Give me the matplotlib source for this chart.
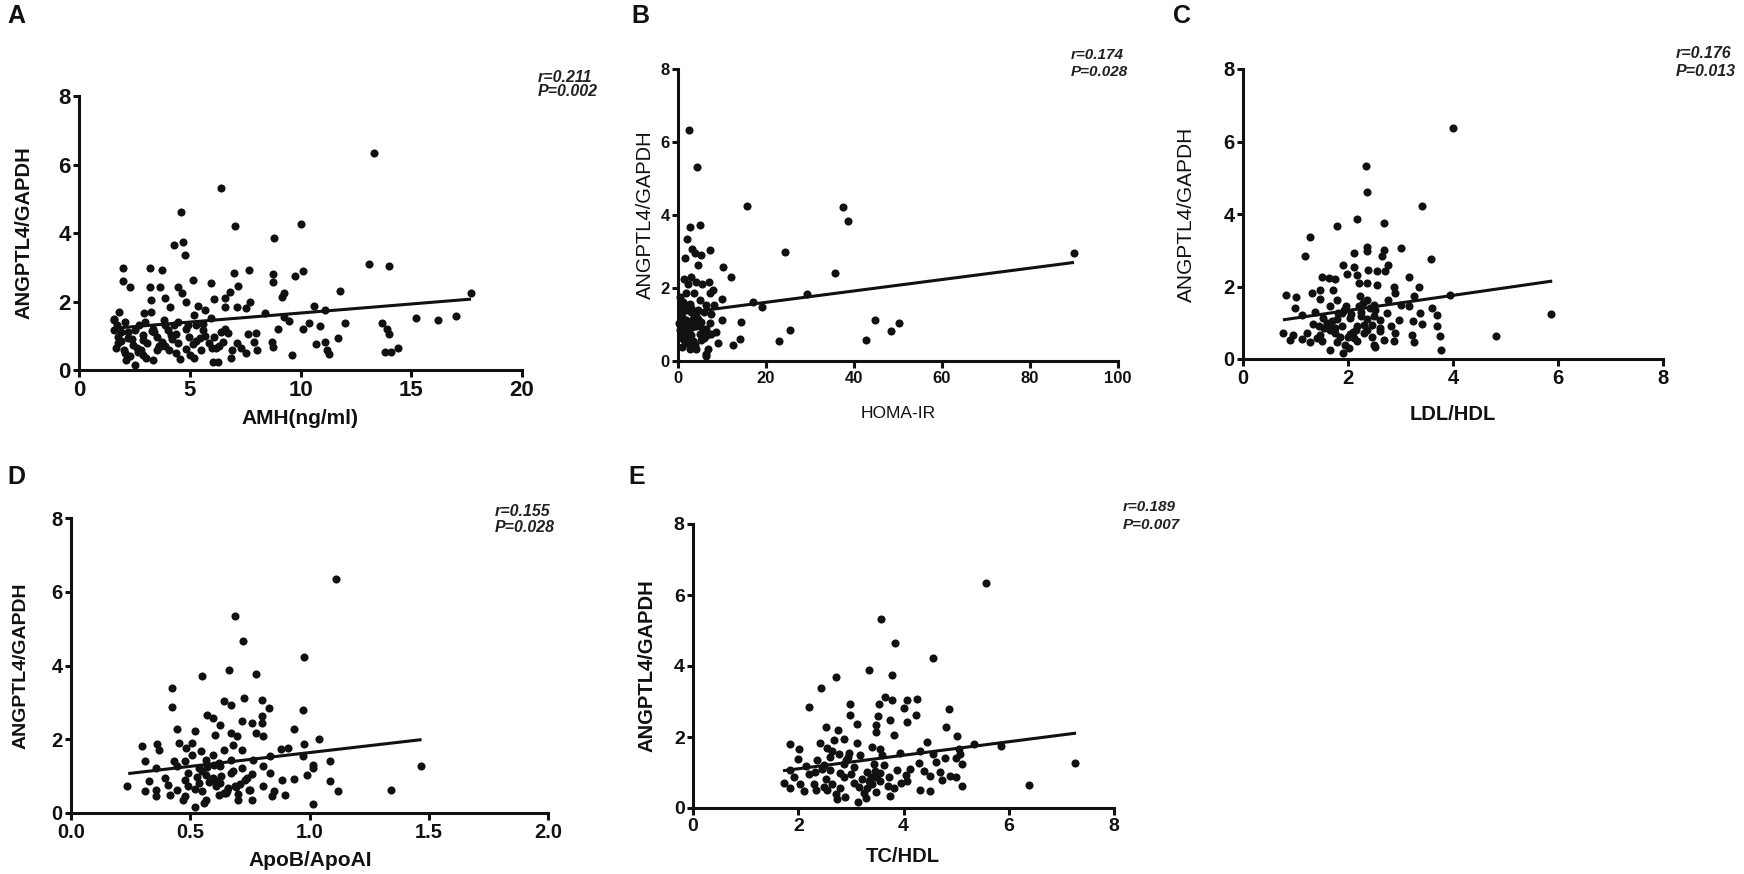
import matplotlib
matplotlib.use("Agg")
import matplotlib.pyplot as plt

plt.rcParams['font.family'] = ['Liberation Sans', 'DejaVu Sans']

# ---- data ----
# A: AMH(ng/ml) vs ANGPTL4/GAPDH
amh_x = [13.3, 6.42, 4.6, 7.06, 10.0, 8.8, 4.27, 4.68, 4.77, 13.1, 14.0, 1.98, 3.19, 3.73, 7.66,
         10.1, 9.73, 6.98, 8.77, 1.98, 2.32, 3.19, 3.66, 5.13, 5.94, 8.76, 4.45, 7.19, 4.65, 9.24,
         9.16, 11.8, 6.82, 17.7, 3.87, 3.27, 4.84, 6.10, 6.58, 7.71, 5.37, 7.15, 4.13, 10.6, 6.58,
         1.82, 2.95, 3.27, 8.39, 7.55, 5.69, 11.1, 1.58, 2.06, 3.84, 4.48, 5.21, 5.94, 15.2, 16.2,
         17.0, 9.48, 9.24, 12.0, 10.4, 10.9, 13.7, 13.9, 10.1, 9.0, 1.58, 2.55, 3.35, 4.0, 4.81,
         5.61, 6.58, 14.0, 7.63, 8.0, 1.74, 2.23, 2.87, 3.52, 4.16, 4.97, 5.45, 6.10, 6.74, 11.7,
         1.74, 2.42, 3.06, 3.76, 4.48, 5.13, 5.85, 6.50, 7.15, 7.90, 8.71, 10.7, 11.1, 1.66, 2.03,
         2.79, 3.52, 4.08, 4.81, 5.53, 6.18, 6.90, 8.03, 8.76, 11.2, 14.4, 14.1, 13.8, 2.31, 3.03,
         3.35, 4.56, 5.21, 6.87, 7.55, 9.61, 11.3, 2.55, 6.06, 6.26, 2.06, 2.68, 1.7, 2.2, 2.9,
         3.4, 3.9, 4.3, 5.0, 5.6, 1.9, 2.6, 3.6, 4.4, 5.3, 6.3,
         1.6, 1.9, 2.4, 2.7, 3.0, 3.3, 3.6, 3.9, 4.2, 4.9, 5.3, 5.7, 6.0, 6.4, 7.3, 2.1, 2.9, 4.4]
amh_y = [6.35, 5.30, 4.61, 4.20, 4.26, 3.84, 3.66, 3.73, 3.35, 3.09, 3.04, 2.98, 2.99, 2.93, 2.92,
         2.89, 2.74, 2.82, 2.80, 2.59, 2.43, 2.43, 2.41, 2.62, 2.53, 2.58, 2.43, 2.45, 2.25, 2.24,
         2.12, 2.30, 2.28, 2.24, 2.09, 2.04, 1.99, 2.06, 2.09, 1.99, 1.87, 1.85, 1.85, 1.87, 1.85,
         1.70, 1.65, 1.70, 1.65, 1.80, 1.75, 1.75, 1.46, 1.41, 1.46, 1.41, 1.60, 1.51, 1.51, 1.46,
         1.58, 1.44, 1.55, 1.38, 1.36, 1.29, 1.36, 1.21, 1.20, 1.19, 1.17, 1.17, 1.21, 1.17, 1.19,
         1.17, 1.21, 1.05, 1.04, 1.07, 0.97, 0.92, 1.02, 0.97, 1.02, 0.97, 0.92, 0.97, 1.07, 0.94,
         0.78, 0.73, 0.78, 0.83, 0.78, 0.76, 0.78, 0.83, 0.78, 0.83, 0.81, 0.76, 0.83, 0.63, 0.58,
         0.58, 0.58, 0.58, 0.60, 0.58, 0.63, 0.58, 0.58, 0.68, 0.58, 0.63, 0.53, 0.52, 0.41, 0.34,
         0.29, 0.32, 0.36, 0.36, 0.51, 0.44, 0.47, 0.15, 0.24, 0.24, 0.49, 0.53, 1.30, 1.10, 0.88,
         1.12, 0.70, 1.30, 0.45, 1.35, 0.85, 0.65, 0.68, 1.05, 1.30, 0.70,
         1.50, 1.10, 0.90, 1.30, 1.40, 1.15, 0.70, 1.30, 0.90, 1.30, 0.85, 1.00, 0.65, 1.10, 0.65,
         0.30, 0.45, 0.50]
amh_fit_x = [1.6, 17.7]
amh_fit_y = [1.22, 2.07]

# B: HOMA-IR
homa_x = [2.5, 4.3, 15.7, 37.6, 38.7, 5.1, 2.65, 2.0, 24.3, 7.35, 3.1, 3.8, 5.3, 1.5, 10.2,
          4.5, 12.1, 35.6, 1.3, 3.0, 4.2, 2.3, 5.5, 7.0, 8.0, 7.2, 1.9, 3.6, 29.3, 10.1,
          17.1, 19.2, 0.5, 1.1, 2.65, 4.9, 6.4, 8.1, 0.8, 3.0, 4.5, 7.6, 44.7, 50.2, 48.4,
          14.4, 10.0, 25.5, 42.7, 23.0, 14.2, 12.4, 9.1, 0.8, 1.9, 3.4, 5.3, 7.2, 0.5, 2.3,
          4.2, 6.4, 8.7, 0.8, 3.0, 4.9, 7.6, 1.3, 3.4, 5.3, 0.8, 2.65, 4.2, 6.8, 6.4, 6.3,
          1.5, 5.7, 1.9, 3.8, 90.0, 0.3, 1.0, 2.0, 3.2, 4.0, 5.8, 6.0, 1.6, 2.8, 0.4, 3.6,
          0.6, 1.2, 2.2, 2.9, 3.5, 4.6, 5.0, 6.6, 1.4, 2.6, 3.9, 0.9]
homa_y = [6.33, 5.31, 4.26, 4.21, 3.84, 3.73, 3.66, 3.35, 2.99, 3.04, 3.08, 2.95, 2.90, 2.81, 2.58,
          2.63, 2.29, 2.40, 2.26, 2.31, 2.17, 2.12, 2.11, 2.17, 1.94, 1.85, 1.85, 1.85, 1.83, 1.71,
          1.62, 1.48, 1.76, 1.62, 1.57, 1.67, 1.53, 1.53, 1.44, 1.35, 1.41, 1.30, 1.13, 1.05, 0.81,
          1.07, 1.12, 0.84, 0.57, 0.55, 0.59, 0.45, 0.48, 1.21, 1.12, 1.16, 1.07, 1.03, 0.98, 0.89,
          0.95, 0.89, 0.80, 0.75, 0.70, 0.75, 0.75, 0.57, 0.52, 0.57, 0.38, 0.34, 0.34, 0.34, 0.20, 0.13,
          0.66, 0.84, 1.39, 1.07, 2.95, 1.05, 0.62, 0.48, 0.92, 1.25, 0.62, 1.35, 1.00, 0.60, 0.85, 0.45,
          1.30, 0.80, 1.00, 1.45, 0.55, 1.15, 0.95, 0.70, 1.55, 0.78, 0.45, 1.10]
homa_fit_x = [0.3, 90.0]
homa_fit_y = [1.30, 2.70]

# C: LDL/HDL
ldl_x = [4.0, 2.35, 2.36, 3.40, 1.79, 2.18, 2.69, 1.27, 1.18, 2.36, 2.36, 2.69, 3.0, 3.59, 1.90,
         2.11, 2.11, 2.65, 2.77, 2.39, 2.55, 2.71, 1.98, 2.17, 1.50, 1.63, 1.76, 3.16, 2.20, 2.36,
         2.55, 2.88, 3.36, 1.47, 1.72, 0.82, 1.01, 1.31, 2.90, 3.95, 3.25, 1.47, 1.79, 2.22, 2.36,
         2.77, 1.66, 1.97, 2.20, 2.49, 3.0, 3.16, 0.99, 3.60, 1.37, 1.12, 1.80, 2.25, 2.52, 2.74,
         3.38, 3.70, 5.86, 1.53, 1.79, 2.04, 2.36, 2.61, 2.98, 3.24, 3.41, 3.70, 1.34, 1.63, 1.88,
         2.17, 2.46, 2.81, 0.76, 0.96, 1.22, 1.47, 1.76, 2.04, 2.30, 2.61, 2.90, 3.22, 3.76, 4.82,
         0.90, 1.12, 1.28, 1.50, 1.79, 2.17, 2.49, 2.69, 2.87, 3.25, 2.52, 1.65, 1.90, 2.01, 3.77,
         2.11, 1.88, 1.66, 2.36, 1.55, 2.0, 2.25, 1.70, 2.45, 1.95, 2.15, 1.40,
         1.60, 1.85, 2.05, 2.30, 2.42, 1.75, 2.10, 2.50, 1.45, 2.28, 1.92, 2.60]
ldl_y = [6.36, 5.33, 4.62, 4.21, 3.68, 3.86, 3.75, 3.37, 2.83, 3.10, 2.97, 3.01, 3.06, 2.75, 2.60,
         2.92, 2.53, 2.83, 2.60, 2.46, 2.44, 2.42, 2.35, 2.32, 2.26, 2.23, 2.20, 2.26, 2.09, 2.09,
         2.05, 2.00, 2.00, 1.91, 1.89, 1.77, 1.70, 1.82, 1.82, 1.77, 1.73, 1.65, 1.63, 1.74, 1.63,
         1.63, 1.47, 1.47, 1.47, 1.50, 1.50, 1.45, 1.40, 1.40, 1.29, 1.22, 1.27, 1.31, 1.36, 1.27,
         1.27, 1.22, 1.25, 1.13, 1.10, 1.13, 1.10, 1.08, 1.08, 1.06, 0.96, 0.90, 0.97, 0.95, 0.92,
         0.92, 0.95, 0.92, 0.72, 0.67, 0.72, 0.67, 0.72, 0.70, 0.72, 0.76, 0.72, 0.67, 0.64, 0.64,
         0.53, 0.55, 0.46, 0.49, 0.46, 0.51, 0.39, 0.53, 0.49, 0.46, 0.33, 0.26, 0.17, 0.30, 0.26,
         0.58, 1.27, 0.81, 0.81, 0.85, 0.60, 1.20, 1.05, 0.62, 0.40, 0.80, 0.58,
         1.00, 0.62, 1.25, 0.95, 1.40, 0.85, 0.75, 1.20, 0.90, 1.55, 1.35, 0.85]
ldl_fit_x = [0.76, 5.89]
ldl_fit_y = [1.08, 2.15]

# D: ApoB/ApoAI
apo_x = [1.11, 0.686, 0.72, 0.975, 0.664, 0.776, 0.548, 0.423, 0.423, 0.724, 0.641, 0.671, 0.799,
         0.972, 0.832, 0.716, 0.758, 0.57, 0.596, 0.799, 0.799, 0.626, 0.934, 0.446, 0.521, 0.604,
         0.67, 0.776, 0.806, 1.04, 0.698, 0.296, 0.36, 0.453, 0.506, 0.978, 0.483, 0.68, 0.716,
         0.368, 0.544, 0.641, 0.881, 0.911, 0.596, 0.836, 0.971, 0.506, 0.311, 0.431, 0.48, 0.566,
         0.671, 0.764, 1.084, 1.016, 0.356, 0.446, 0.536, 0.626, 0.716, 0.806, 1.467, 1.016, 0.491,
         0.566, 0.671, 0.761, 0.836, 0.989, 0.393, 0.476, 0.596, 0.731, 0.934, 0.326, 0.536, 0.626,
         0.886, 1.084, 0.236, 0.408, 0.491, 0.607, 0.686, 0.806, 1.12, 1.34, 0.311, 0.356, 0.446,
         0.551, 0.656, 0.746, 0.851, 0.356, 0.416, 0.476, 0.619, 0.844, 0.896, 0.468, 0.566, 0.701,
         0.761, 1.016, 0.518, 0.559, 0.58, 0.63, 0.69, 0.55, 0.65, 0.74, 0.60, 0.52,
         0.61, 0.66, 0.71, 0.57, 0.64, 0.68, 0.53, 0.75, 0.62, 0.70]
apo_y = [6.35, 5.35, 4.66, 4.24, 3.89, 3.78, 3.71, 3.39, 2.87, 3.12, 3.03, 2.94, 3.07,
         2.78, 2.84, 2.49, 2.44, 2.67, 2.58, 2.62, 2.44, 2.40, 2.28, 2.28, 2.22, 2.12,
         2.17, 2.17, 2.08, 2.01, 2.08, 1.81, 1.88, 1.90, 1.90, 1.87, 1.76, 1.85, 1.72,
         1.72, 1.67, 1.70, 1.74, 1.76, 1.58, 1.54, 1.54, 1.58, 1.40, 1.40, 1.40, 1.45,
         1.45, 1.45, 1.40, 1.31, 1.22, 1.27, 1.22, 1.27, 1.22, 1.27, 1.27, 1.22, 1.08,
         1.04, 1.08, 1.07, 1.08, 1.04, 0.95, 0.90, 0.95, 0.90, 0.92, 0.86, 0.81, 0.81,
         0.89, 0.86, 0.72, 0.77, 0.72, 0.72, 0.72, 0.72, 0.61, 0.63, 0.59, 0.63, 0.63,
         0.59, 0.61, 0.63, 0.59, 0.47, 0.50, 0.45, 0.50, 0.47, 0.50, 0.34, 0.36, 0.36,
         0.34, 0.25, 0.16, 0.27, 0.85, 1.00, 0.70, 1.15, 0.55, 0.95, 1.30, 0.65,
         0.88, 0.68, 0.80, 1.25, 0.55, 1.15, 0.98, 0.62, 1.35, 0.52]
apo_fit_x = [0.24, 1.47]
apo_fit_y = [1.07, 1.99]

# E: TC/HDL
tc_x = [5.56, 3.58, 3.83, 4.56, 3.34, 3.78, 2.71, 2.44, 2.20, 3.64, 3.78, 4.07, 4.26, 3.53, 2.99,
        4.0, 4.86, 2.99, 3.51, 4.23, 3.75, 4.07, 3.12, 3.48, 2.52, 4.81, 2.75, 3.47, 3.81, 5.01,
        2.67, 2.86, 1.84, 2.41, 3.12, 4.45, 5.34, 5.86, 2.01, 2.55, 3.40, 3.56, 5.05, 2.77, 2.96,
        3.94, 4.32, 4.57, 5.07, 1.99, 2.36, 3.18, 3.59, 4.79, 4.99, 2.14, 2.49, 2.86, 3.05, 3.43,
        3.62, 4.29, 4.61, 5.11, 1.85, 2.31, 2.61, 3.31, 3.88, 4.13, 4.39, 4.70, 1.91, 2.52, 2.86,
        3.21, 3.47, 3.72, 4.04, 4.51, 4.89, 1.72, 2.03, 2.29, 2.64, 3.05, 3.40, 3.56, 4.07, 4.73,
        4.99, 6.38, 1.85, 2.10, 2.33, 2.55, 2.80, 3.31, 3.81, 4.32, 5.11, 4.50, 2.71, 2.88, 3.24,
        3.47, 3.74, 2.74, 3.13, 3.28, 2.48, 7.25, 2.2, 2.6, 3.0, 3.45, 3.7, 2.9, 3.35,
        2.45, 2.80, 3.15, 3.55, 3.95, 2.65, 3.38, 2.95]
tc_y = [6.33, 5.33, 4.65, 4.23, 3.88, 3.76, 3.69, 3.38, 2.85, 3.13, 3.04, 3.04, 3.08, 2.94, 2.92,
        2.83, 2.78, 2.61, 2.58, 2.61, 2.47, 2.42, 2.38, 2.33, 2.27, 2.28, 2.21, 2.14, 2.05, 2.02,
        1.91, 1.93, 1.81, 1.83, 1.83, 1.86, 1.79, 1.74, 1.67, 1.69, 1.72, 1.67, 1.67, 1.53, 1.55,
        1.55, 1.60, 1.53, 1.53, 1.39, 1.34, 1.48, 1.48, 1.42, 1.42, 1.17, 1.20, 1.25, 1.16, 1.25,
        1.20, 1.27, 1.30, 1.23, 1.06, 1.02, 1.06, 1.02, 1.06, 1.11, 1.04, 1.02, 0.87, 0.83, 0.87,
        0.83, 0.87, 0.87, 0.92, 0.89, 0.89, 0.70, 0.67, 0.69, 0.69, 0.70, 0.69, 0.76, 0.76, 0.78,
        0.87, 0.64, 0.56, 0.48, 0.50, 0.52, 0.55, 0.55, 0.57, 0.52, 0.61, 0.48, 0.39, 0.31, 0.42,
        0.45, 0.33, 0.24, 0.17, 0.29, 0.59, 1.27, 0.95, 1.45, 0.95, 1.05, 0.62, 1.35, 0.75,
        1.10, 0.98, 0.60, 0.98, 0.70, 1.60, 0.88, 1.45]
tc_fit_x = [1.71, 7.28]
tc_fit_y = [1.05, 2.11]

W, H = 1744, 874
fig = plt.figure(figsize=(W / 100, H / 100), dpi=100)


def px_axes(l, r, t, b):
    return fig.add_axes([l / W, 1 - b / H, (r - l) / W, (b - t) / H])


def panel(box, xs, ys, fx, fy, xmax, xticks, xfmt, xlab, xlab_pos, xlab_kw,
          ylab_x, ylab_kw, tick_size, letter, letter_pos, stats, stats_pos, stats_size):
    l, r, t, b = box
    ax = px_axes(l, r, t, b)
    ax.scatter(xs, ys, s=34, color='#111111', linewidths=0, zorder=3, clip_on=False)
    ax.plot(fx, fy, color='#111111', lw=2.2, zorder=4, solid_capstyle='butt')
    ax.set_xlim(0, xmax)
    ax.set_ylim(0, 8)
    ax.set_xticks(xticks)
    ax.set_xticklabels([xfmt.format(v) for v in xticks])
    ax.set_yticks([0, 2, 4, 6, 8])
    for s in ['top', 'right']:
        ax.spines[s].set_visible(False)
    for s in ['left', 'bottom']:
        ax.spines[s].set_linewidth(2.2)
        ax.spines[s].set_color('#111111')
    ax.tick_params(direction='out', width=2.2, color='#111111',
                   labelsize=tick_size, labelcolor='#111111')
    ax.tick_params(axis='x', length=5, pad=2)
    ax.tick_params(axis='y', length=4, pad=2)
    for lab in ax.get_xticklabels() + ax.get_yticklabels():
        lab.set_fontweight('bold')
    ax.set_ylabel('ANGPTL4/GAPDH', va='center', color='#111111', **ylab_kw)
    ax.yaxis.set_label_coords((ylab_x - l) / (r - l), 0.5)
    ax.set_xlabel(xlab, va='center', color='#111111', **xlab_kw)
    ax.xaxis.set_label_coords((xlab_pos[0] - l) / (r - l), (b - xlab_pos[1]) / (b - t))
    fig.text(letter_pos[0] / W, 1 - letter_pos[1] / H, letter, fontsize=18,
             fontweight='bold', ha='center', va='center', color='#111111')
    for i, line in enumerate(stats):
        fig.text(stats_pos[0] / W, 1 - stats_pos[1][i] / H, line, fontsize=stats_size,
                 fontweight='bold', fontstyle='italic', ha='left', va='center',
                 color='#222222')
    return ax


panel((79, 522, 96, 370), amh_x, amh_y, amh_fit_x, amh_fit_y, 20, [0, 5, 10, 15, 20], '{:g}',
      'AMH(ng/ml)', (300, 418), dict(fontsize=15, fontweight='bold'),
      24, dict(fontsize=14.5, fontweight='bold'), 16,
      'A', (16, 16), ['r=0.211', 'P=0.002'], (538, [77, 92]), 11.5)

panel((678, 1118, 69, 361), homa_x, homa_y, homa_fit_x, homa_fit_y, 100,
      [0, 20, 40, 60, 80, 100], '{:g}',
      'HOMA-IR', (898, 414), dict(fontsize=12.5),
      645, dict(fontsize=14.5), 12,
      'B', (640, 16), ['r=0.174', 'P=0.028'], (1071, [55, 72]), 11)

panel((1243, 1663, 69, 359), ldl_x, ldl_y, ldl_fit_x, ldl_fit_y, 8, [0, 2, 4, 6, 8], '{:g}',
      'LDL/HDL', (1453, 414), dict(fontsize=14.5, fontweight='bold'),
      1186, dict(fontsize=15), 14.5,
      'C', (1182, 16), ['r=0.176', 'P=0.013'], (1676, [53, 72]), 11.5)

panel((71, 548, 518, 813), apo_x, apo_y, apo_fit_x, apo_fit_y, 2.0, [0.0, 0.5, 1.0, 1.5, 2.0],
      '{:.1f}', 'ApoB/ApoAI', (310, 860), dict(fontsize=15, fontweight='bold'),
      21, dict(fontsize=14, fontweight='bold'), 14.5,
      'D', (16, 477), ['r=0.155', 'P=0.028'], (495, [512, 527]), 11.5)

panel((693, 1114, 524, 808), tc_x, tc_y, tc_fit_x, tc_fit_y, 8, [0, 2, 4, 6, 8], '{:g}',
      'TC/HDL', (903, 857), dict(fontsize=14.5, fontweight='bold'),
      647, dict(fontsize=14.5, fontweight='bold'), 14,
      'E', (637, 477), ['r=0.189', 'P=0.007'], (1123, [507, 525]), 11)

fig.savefig('out.png', dpi=100)
